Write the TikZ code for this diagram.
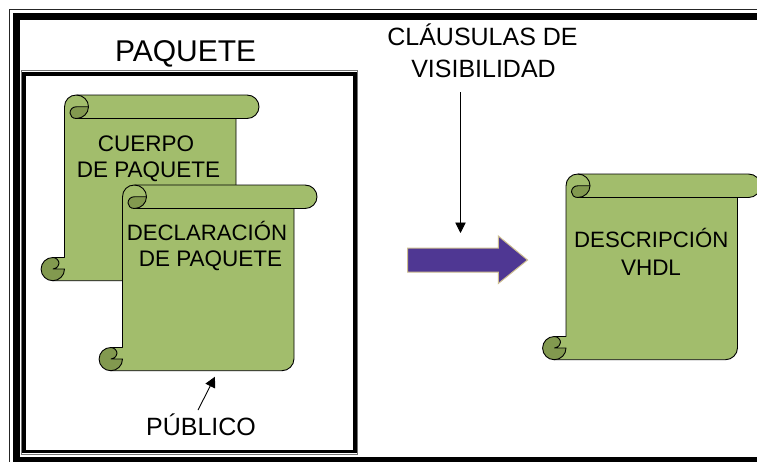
\documentclass[tikz,border=0pt]{standalone}
\usepackage{fontspec}
\setmainfont{Liberation Sans}
\usetikzlibrary{arrows.meta}
\definecolor{scrollgreen}{HTML}{A2BD6C}
\definecolor{scrolldark}{HTML}{82994F}
\definecolor{arrowpurple}{HTML}{4F3793}
\definecolor{arrowtan}{HTML}{CDBE90}
\tikzset{
  scrollline/.style={draw=black,line width=0.9pt,line join=round},
  label/.style={inner sep=0pt,anchor=base,text=black},
  pointer/.style={draw=black,line width=0.9pt,-{Triangle[length=10.5pt,width=10.5pt]}},
}
% #1 x of the left edge, #2 y of the top edge
\newcommand{\scrollshape}[2]{%
  \begin{scope}[shift={(#1,#2)}]
    % whole green silhouette
    \path[scrollline,fill=scrollgreen]
      (0,12) .. controls (0,5) and (5,0) .. (12,0) -- (182.5,0)
      .. controls (189.5,0) and (194.5,5.5) .. (194.5,11.75)
      .. controls (194.5,18) and (189.5,23.5) .. (182.5,23.5) -- (171.5,23.5)
      -- (171.5,173.7) .. controls (171.5,180.3) and (166.1,185.7) .. (159.5,185.7)
      -- (-11.7,185.7) -- (-11.7,162.5) -- (0,162.5) -- cycle;
    % band underline
    \path[scrollline] (12,23.5) -- (171.5,23.5);
    % bottom curl
    \path[scrollline,fill=scrolldark]
      (0,174) -- (-11.5,174)
      .. controls (-7,173) and (-5.5,170.5) .. (-5.5,168.5)
      .. controls (-5.5,165.5) and (-8,162.5) .. (-11.7,162.5)
      .. controls (-18.2,162.5) and (-23.4,167.7) .. (-23.4,174.1)
      .. controls (-23.4,180.5) and (-18.2,185.7) .. (-11.7,185.7)
      .. controls (-5.2,185.7) and (0,180.5) .. (0,174) -- cycle;
    % top curl
    \path[scrollline]
      (12,0) .. controls (18.6,0) and (24,5.3) .. (24,11.75);
    \path[scrollline,fill=scrolldark]
      (24,11.75) .. controls (24,18.2) and (18.6,23.5) .. (12,23.5)
      .. controls (8,23.5) and (5.5,21) .. (5.5,18)
      .. controls (5.5,14.5) and (8,11.75) .. (12,11.75) -- cycle;
  \end{scope}}
\begin{document}
\begin{tikzpicture}[x=1pt,y=-1pt]
  \useasboundingbox (0,0) rectangle (757,461);
  \fill[white] (0,0) rectangle (757,461);
  % outer frame
  \draw[black!85,line width=1.3pt] (9.5,9.5) rectangle (790,490);
  \draw[black,line width=7pt] (16,16.5) rectangle (790,460.5);
  % package box
  \draw[black!55,line width=1pt] (21.2,70.2) rectangle (357.8,454.3);
  \draw[black,line width=3.6pt] (23.9,73.7) rectangle (355,451.6);
  % scrolls
  \scrollshape{64.5}{95}
  \scrollshape{122.5}{185}
  \scrollshape{566}{174}
  % big arrow
  \path[draw=arrowtan,line width=1pt,fill=arrowpurple,line join=miter]
    (407.5,248) -- (498.3,248) -- (498.3,236) -- (527.5,260) -- (498.3,283.5)
    -- (498.3,272) -- (407.5,272) -- cycle;
  % texts
  \node[label,font=\fontsize{30}{30}\selectfont] (paquete) at (185.6,61) {PAQUETE};
  \node[label,font=\fontsize{22.5}{22.5}\selectfont] (cuerpo) at (146,151) {CUERPO};
  \node[label,font=\fontsize{22.5}{22.5}\selectfont] (depaq1) at (148.5,177.7) {DE PAQUETE};
  \node[label,font=\fontsize{22.2}{22.2}\selectfont] (declar) at (207,240.7) {DECLARACIÓN};
  \node[label,font=\fontsize{22.5}{22.5}\selectfont] (depaq2) at (210.5,266.7) {DE PAQUETE};
  \node[label,font=\fontsize{22.2}{22.2}\selectfont] (descr) at (651.3,247.7) {DESCRIPCIÓN};
  \node[label,font=\fontsize{22.5}{22.5}\selectfont] (vhdl) at (651,275) {VHDL};
  \node[label,font=\fontsize{25}{25}\selectfont] (clau) at (482.5,45) {CLÁUSULAS DE};
  \node[label,font=\fontsize{25}{25}\selectfont] (visib) at (483.5,77) {VISIBILIDAD};
  \node[label,font=\fontsize{25}{25}\selectfont] (publico) at (201,435.7) {PÚBLICO};
  % pointers
  \coordinate (visibfoot) at (460.5,92);
  \coordinate (bigarrowtop) at (460.5,233);
  \coordinate (publicotop) at (198,410);
  \coordinate (declfoot) at (215,376.7);
  \draw[pointer] (visibfoot) -- (bigarrowtop);
  \draw[pointer] (publicotop) -- (declfoot);
\end{tikzpicture}
\end{document}
